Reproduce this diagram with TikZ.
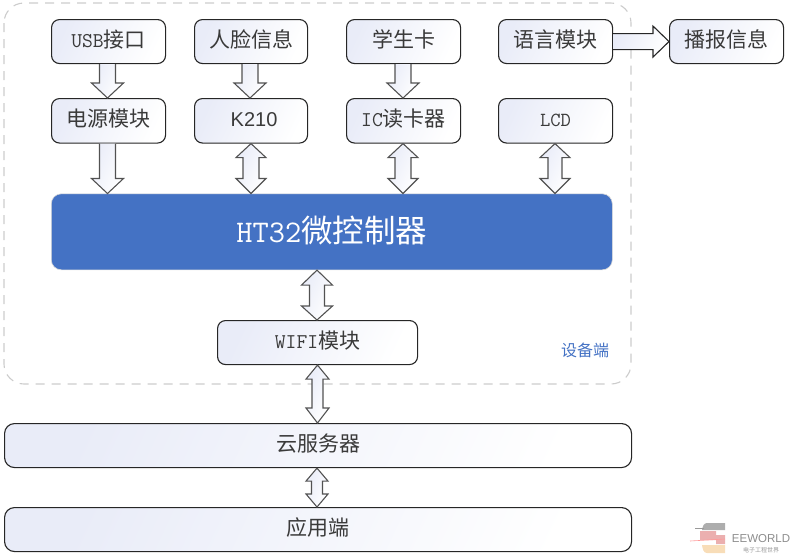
\documentclass[tikz,border=0pt]{standalone}
\usepackage{fontspec}
\setmainfont{Noto Sans CJK SC}
\newcommand\lat{\ttfamily}
\newfontfamily\sanslat{Liberation Sans}
\usetikzlibrary{calc}
\definecolor{ink}{HTML}{3A3A3A}
\definecolor{pale}{HTML}{E9ECF8}
\definecolor{chip}{HTML}{4472C4}
\definecolor{wmpink}{HTML}{EBAFAF}
\definecolor{wmorange}{HTML}{F8DDB8}
\tikzset{
  softfill/.style={left color=pale,middle color=white,right color=white,shading angle=65},
  box/.style={draw=black!85,line width=1.1pt,rounded corners=8pt,softfill,text=ink,font=\fontsize{21}{23}\selectfont,inner sep=0pt,anchor=north west,text height=16pt,text depth=4pt},
  blockarrow/.style={draw=black!68,line width=1.1pt,line join=miter,softfill},
}
% vertical block arrows: from node #1 (south) to node #2 (north) at page x #3
% #4 shaft half width, #5 head half width, #6 upper head length, #7 lower head length
\newcommand\vdouble[7]{\draw[blockarrow] let \p1=(#1.south),\p2=(#2.north) in
  (#3pt,\y1) -- (#3pt+#5pt,\y1-#6pt) -- (#3pt+#4pt,\y1-#6pt) -- (#3pt+#4pt,\y2+#7pt) -- (#3pt+#5pt,\y2+#7pt)
  -- (#3pt,\y2) -- (#3pt-#5pt,\y2+#7pt) -- (#3pt-#4pt,\y2+#7pt) -- (#3pt-#4pt,\y1-#6pt) -- (#3pt-#5pt,\y1-#6pt) -- cycle;}
\newcommand\vsingle[6]{\draw[blockarrow] let \p1=(#1.south),\p2=(#2.north) in
  (#3pt-#4pt,\y1) -- (#3pt-#4pt,\y2+#6pt) -- (#3pt-#5pt,\y2+#6pt) -- (#3pt,\y2) -- (#3pt+#5pt,\y2+#6pt)
  -- (#3pt+#4pt,\y2+#6pt) -- (#3pt+#4pt,\y1) ;}
\newcommand\boxat[7][]{\node[box,minimum width=#5pt,minimum height=#6pt,#1] (#2) at (#3,#4) {#7};}
\begin{document}
\begin{tikzpicture}[x=1pt,y=-1pt]
\useasboundingbox (0,0) rectangle (795,558);
% device region
\draw[draw=black!20,line width=1.1pt,dash pattern=on 9pt off 7pt,rounded corners=20pt] (4,3) rectangle (631,384);
\node[text=chip,font=\fontsize{16}{18}\selectfont] (dev) at (585,350.5) {设备端};
% top row
\boxat{usb}{51}{19}{114}{44}{{\lat USB}接口}
\boxat{face}{194}{19}{113}{44}{人脸信息}
\boxat{card}{346}{19}{114}{44}{学生卡}
\boxat{voice}{498}{19}{114}{44}{语言模块}
\boxat{say}{669}{19}{114}{44}{播报信息}
% second row
\boxat{power}{51}{98}{114}{44.5}{电源模块}
\boxat{k}{194}{98}{113}{44.5}{\hspace{6pt}\sanslat\fontsize{20}{22}\selectfont K210}
\boxat{ic}{346}{98}{114}{44.5}{{\lat IC}读卡器}
\boxat{lcd}{498}{98}{114}{44.5}{\lat\fontsize{20}{22}\selectfont LCD}
% MCU
\node[anchor=north west,fill=chip,draw=black!15,line width=0.6pt,rounded corners=10pt,minimum width=561pt,minimum height=76pt,text=white,inner sep=0pt,font=\fontsize{31.5}{33}\selectfont,text height=26pt,text depth=4.6pt] (mcu) at (51,193.5) {{\lat HT32}微控制器};
% lower
\boxat{wifi}{217}{320}{200}{44}{{\lat WIFI}模块}
\boxat[rounded corners=10pt]{cloud}{4}{423}{627}{44}{云服务器}
\boxat[rounded corners=10pt]{appl}{4}{507}{627}{44}{应用端}
% connectors
\vsingle{usb}{power}{107.5}{8}{16}{15}
\vsingle{face}{k}{250}{8}{16}{15}
\vsingle{card}{ic}{403}{8}{16}{15}
\vsingle{power}{mcu}{107.5}{8}{16}{15}
\vdouble{k}{mcu}{251}{8}{15}{14}{15}
\vdouble{ic}{mcu}{403}{8}{15}{14}{15}
\vdouble{lcd}{mcu}{555}{7}{15}{14}{15}
\vdouble{mcu}{wifi}{317}{7.5}{15.5}{15}{14}
\vdouble{wifi}{cloud}{317.5}{5.5}{11.5}{14}{15}
\vdouble{cloud}{appl}{317}{5.5}{11}{13}{13}
\draw[blockarrow,draw=black!85] let \p1=(voice.east),\p2=(say.west) in
  (\x1,\y1+8pt) -- (\x2-16pt,\y1+8pt) -- (\x2-16pt,\y1+15.5pt) -- (\x2,\y1) -- (\x2-16pt,\y1-15.5pt) -- (\x2-16pt,\y1-8pt) -- (\x1,\y1-8pt);
% watermark
\fill[black!32] (707,523) -- (725,523) -- (725,530) -- (702,530) to[out=80,in=180] cycle;
\fill[wmpink] (700,531) -- (716,531) -- (716,535) -- (725,535) -- (725,544) -- (716,544) -- (716,540) -- (700,540) -- cycle;
\fill[wmorange] (702,545) -- (725,545) -- (725,553) -- (707,553) to[out=180,in=-80] cycle;
\draw[red!40,line width=0.6pt] (690,541) -- (725,539);
\draw[black!40,line width=0.6pt] (695,528.5) -- (704,528.5);
\node[text=black!45,font=\sanslat\fontsize{11.5}{12}\selectfont,inner sep=0pt] (ee) at (761,538.5) {EEWORLD};
\node[text=black!40,font=\fontsize{6}{7}\selectfont,inner sep=0pt] (eec) at (761,550) {电子工程世界};
\end{tikzpicture}
\end{document}
